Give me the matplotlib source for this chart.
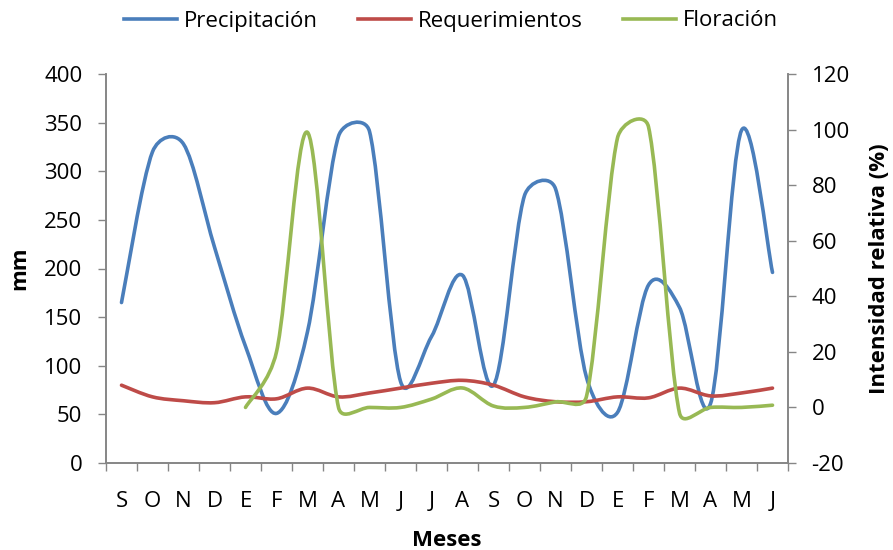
import numpy as np
import matplotlib
matplotlib.use("Agg")
import matplotlib.pyplot as plt
from matplotlib.path import Path
from matplotlib.patches import PathPatch
from matplotlib.lines import Line2D

plt.rcParams['font.family'] = ['Open Sans', 'DejaVu Sans']
plt.rcParams['axes.unicode_minus'] = False

meses = ['S', 'O', 'N', 'D', 'E', 'F', 'M', 'A', 'M', 'J', 'J',
         'A', 'S', 'O', 'N', 'D', 'E', 'F', 'M', 'A', 'M', 'J']

# mm (eje izquierdo)
precipitacion = [165, 320, 328, 222, 120, 51, 135, 336, 341, 84, 130,
                 193, 80, 275, 282, 88, 52, 183, 160, 61, 342, 196]
requerimientos = [80, 68, 64, 62, 68, 66, 77, 68, 72, 77, 82,
                  85, 80, 68, 63, 63, 68, 67, 77, 69, 72, 77]

# % (eje derecho), empieza en E (indice 4)
floracion_inicio = 4
floracion = [0, 20, 99, 0, 0, 0, 3, 7, 0.5, 0, 2, 4, 97, 101, -2, 0, 0, 0.8]

W, H = 893, 550
X0, X1, Y0, Y1 = 106, 788, 74, 463


def smooth_path(xs, ys, sx, sy):
    # Bezier suavizado estilo Excel, calculado en pixeles
    p = np.column_stack([np.asarray(xs, float) * sx, np.asarray(ys, float) * sy])
    n = len(p)
    verts = [p[0]]
    codes = [Path.MOVETO]
    for i in range(n - 1):
        p0 = p[i - 1] if i > 0 else p[i]
        p1, p2 = p[i], p[i + 1]
        p3 = p[i + 2] if i + 2 < n else p[i + 1]
        d12 = np.hypot(*(p2 - p1))
        a1 = (p2 - p0) / 6.0
        a2 = (p3 - p1) / 6.0
        for a in (a1, a2):
            la = np.hypot(*a)
            if la > d12 / 2 and la > 0:
                a *= (d12 / 2) / la
        verts += [p1 + a1, p2 - a2, p2]
        codes += [Path.CURVE4] * 3
    v = np.array(verts)
    v[:, 0] /= sx
    v[:, 1] /= sy
    return Path(v, codes)


fig = plt.figure(figsize=(W / 100, H / 100), dpi=100)
ax = fig.add_axes([X0 / W, 1 - Y1 / H, (X1 - X0) / W, (Y1 - Y0) / H])
ax2 = ax.twinx()

azul, rojo, verde = '#4A7EBB', '#BE4B48', '#98B954'
gris = '#868686'

x = np.arange(len(meses))
sx = (X1 - X0) / len(meses)
sy1 = (Y1 - Y0) / 400
sy2 = (Y1 - Y0) / 140

for ys, c in [(precipitacion, azul), (requerimientos, rojo)]:
    ax.add_patch(PathPatch(smooth_path(x, ys, sx, sy1), fill=False,
                           edgecolor=c, lw=2.6, capstyle='round', joinstyle='round'))
xf = x[floracion_inicio:floracion_inicio + len(floracion)]
ax2.add_patch(PathPatch(smooth_path(xf, floracion, sx, sy2), fill=False,
                        edgecolor=verde, lw=2.6, capstyle='round', joinstyle='round'))

ax.set_xlim(-0.5, len(meses) - 0.5)
ax.set_ylim(0, 400)
ax2.set_ylim(-20, 120)
ax.set_yticks(np.arange(0, 401, 50))
ax2.set_yticks(np.arange(-20, 121, 20))
ax.set_xticks(x)
ax.set_xticklabels(meses)
ax.set_xticks(np.arange(-0.5, len(meses), 1), minor=True)
ax.tick_params(axis='x', which='major', length=0, pad=20, labelsize=16)
ax.tick_params(axis='x', which='minor', length=6, width=1, color=gris, direction='out')
ax.tick_params(axis='y', length=6, width=1, color=gris, pad=11, labelsize=16)
ax2.tick_params(axis='y', length=6, width=1, color=gris, pad=11, labelsize=16)

for a in (ax, ax2):
    for s in a.spines.values():
        s.set_color(gris)
        s.set_linewidth(1.2)
    a.spines['top'].set_visible(False)

ax.set_ylabel('mm', fontsize=16, fontweight='bold', labelpad=10)
ax2.set_ylabel('Intensidad relativa (%)', fontsize=16, fontweight='bold', labelpad=14)
ax.set_xlabel('Meses', fontsize=16, fontweight='bold', labelpad=13)

handles = [Line2D([], [], color=c, lw=2.6) for c in (azul, rojo, verde)]
fig.legend(handles, ['Precipitación', 'Requerimientos', 'Floración'],
           loc='center', bbox_to_anchor=(0.505, 1 - 21 / H), ncol=3, frameon=False,
           fontsize=16, handlelength=2.4, handletextpad=0.3, columnspacing=1.8)

fig.savefig('out.png', dpi=100)
